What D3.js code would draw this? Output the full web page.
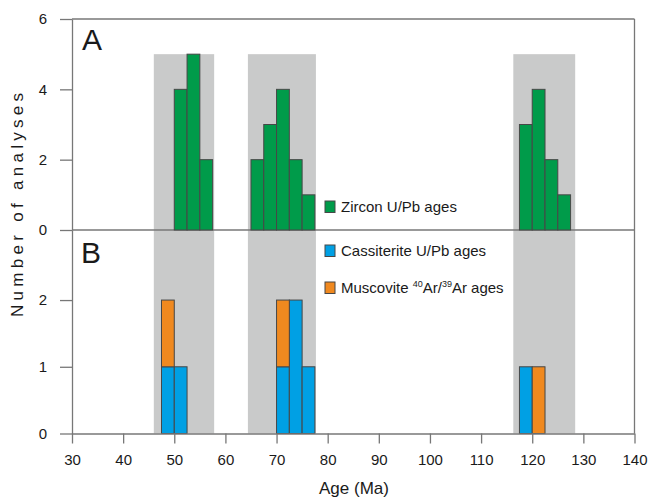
<!DOCTYPE html>
<html lang="en">
	<head>
		<meta charset="utf-8">
		<title>Age histogram</title>
		<script type="text/javascript" src="https://d3js.org/d3.v7.min.js"></script>
		<style type="text/css">
			body { margin: 0; background: white; }
			text { font-family: "Liberation Sans", Arial, sans-serif; fill: #1a1a1a; }
			.axis path, .axis line { stroke: #777; stroke-width: 1.3px; }
			.axis text { font-size: 15px; fill: #1a1a1a; font-family: "Liberation Sans", Arial, sans-serif; }
		</style>
	</head>
	<body>
		<script type="text/javascript">

			//Data (bin start in Ma, bin width 2.5 Ma)
			var binWidth = 2.5;
			var zirconBins = [50, 52.5, 55, 65, 67.5, 70, 72.5, 75, 117.5, 120, 122.5, 125];
			var zirconCounts = [4, 5, 2, 2, 3, 4, 2, 1, 3, 4, 2, 1];
			var cassBins = [47.5, 50, 70, 72.5, 75, 117.5];
			var cassCounts = [1, 1, 1, 2, 1, 1];
			var muscBins = [47.5, 70, 120];
			var muscCounts = [1, 1, 1];
			//grey age ranges
			var bandStart = [46, 64.4, 116.3];
			var bandEnd = [57.8, 77.7, 128.4];
			var xTicks = [30, 40, 50, 60, 70, 80, 90, 100, 110, 120, 130, 140];
			var topTicks = [0, 2, 4, 6];
			var bottomTicks = [0, 1, 2];

			var w = 649;
			var h = 498;
			var plotLeft = 72, plotRight = 634.5, plotTop = 19, plotMid = 230, plotBottom = 433.5;

			var green = "#009b4a", blue = "#00a0e4", orange = "#f0891f", grey = "#c9caca", edge = "#474747";

			var svg = d3.select("body")
						.append("svg")
						.attr("width", w)
						.attr("height", h);

			var x = d3.scaleLinear().domain([30, 140]).range([plotLeft, plotRight]);
			var yTop = d3.scaleLinear().domain([0, 6]).range([plotMid, plotTop]);
			var yBot = d3.scaleLinear().domain([0, 3.05]).range([plotBottom, plotMid]);

			//grey bands, from 5 on top scale down to the x axis
			svg.selectAll("rect.band")
				.data(bandStart)
				.enter()
				.append("rect")
				.attr("class", "band")
				.attr("x", function(d) { return x(d); })
				.attr("width", function(d, i) { return x(bandEnd[i]) - x(d); })
				.attr("y", yTop(5))
				.attr("height", plotBottom - yTop(5))
				.attr("fill", grey);

			//frame
			svg.append("line")
				.attr("x1", plotLeft).attr("x2", plotRight)
				.attr("y1", plotTop).attr("y2", plotTop)
				.attr("stroke", "#777").attr("stroke-width", 1.3);
			svg.append("line")
				.attr("x1", plotRight).attr("x2", plotRight)
				.attr("y1", plotTop).attr("y2", plotBottom)
				.attr("stroke", "#777").attr("stroke-width", 1.3);
			svg.append("line")
				.attr("x1", plotLeft).attr("x2", plotRight)
				.attr("y1", plotMid).attr("y2", plotMid)
				.attr("stroke", "#777").attr("stroke-width", 1.3);

			//zircon bars
			svg.selectAll("rect.zircon")
				.data(zirconBins)
				.enter()
				.append("rect")
				.attr("class", "zircon")
				.attr("x", function(d) { return x(d); })
				.attr("width", function(d) { return x(d + binWidth) - x(d); })
				.attr("y", function(d, i) { return yTop(zirconCounts[i]); })
				.attr("height", function(d, i) { return plotMid - yTop(zirconCounts[i]); })
				.attr("fill", green)
				.attr("stroke", edge)
				.attr("stroke-width", 1);

			//cassiterite bars
			svg.selectAll("rect.cass")
				.data(cassBins)
				.enter()
				.append("rect")
				.attr("class", "cass")
				.attr("x", function(d) { return x(d); })
				.attr("width", function(d) { return x(d + binWidth) - x(d); })
				.attr("y", function(d, i) { return yBot(cassCounts[i]); })
				.attr("height", function(d, i) { return plotBottom - yBot(cassCounts[i]); })
				.attr("fill", blue)
				.attr("stroke", edge)
				.attr("stroke-width", 1);

			//muscovite bars, stacked on cassiterite
			function baseOf(b) {
				var k = cassBins.indexOf(b);
				return k < 0 ? 0 : cassCounts[k];
			}
			svg.selectAll("rect.musc")
				.data(muscBins)
				.enter()
				.append("rect")
				.attr("class", "musc")
				.attr("x", function(d) { return x(d); })
				.attr("width", function(d) { return x(d + binWidth) - x(d); })
				.attr("y", function(d, i) { return yBot(baseOf(d) + muscCounts[i]); })
				.attr("height", function(d, i) { return yBot(baseOf(d)) - yBot(baseOf(d) + muscCounts[i]); })
				.attr("fill", orange)
				.attr("stroke", edge)
				.attr("stroke-width", 1);

			//axes
			svg.append("g")
				.attr("class", "axis")
				.attr("transform", "translate(" + plotLeft + ",0)")
				.call(d3.axisLeft(yTop).tickValues(topTicks).tickFormat(d3.format("d"))
					.tickSize(12).tickSizeOuter(0).tickPadding(13));
			svg.append("g")
				.attr("class", "axis")
				.attr("transform", "translate(" + plotLeft + ",0)")
				.call(d3.axisLeft(yBot).tickValues(bottomTicks).tickFormat(d3.format("d"))
					.tickSize(12).tickSizeOuter(0).tickPadding(13));
			svg.append("g")
				.attr("class", "axis")
				.attr("transform", "translate(0," + plotBottom + ")")
				.call(d3.axisBottom(x).tickValues(xTicks).tickFormat(d3.format("d"))
					.tickSize(10).tickSizeOuter(0).tickPadding(11));

			//panel letters
			svg.append("text").attr("x", 82).attr("y", 49.5)
				.style("font-size", "30px").text("A");
			svg.append("text").attr("x", 81).attr("y", 262.7)
				.style("font-size", "30px").text("B");

			//legend
			var legend = [
				{ color: green, y: 201 },
				{ color: blue, y: 245 },
				{ color: orange, y: 282 }
			];
			svg.selectAll("rect.key")
				.data(legend)
				.enter()
				.append("rect")
				.attr("class", "key")
				.attr("x", 325)
				.attr("y", function(d) { return d.y; })
				.attr("width", 10)
				.attr("height", 11.5)
				.attr("fill", function(d) { return d.color; })
				.attr("stroke", edge)
				.attr("stroke-width", 1);

			svg.append("text").attr("x", 341).attr("y", 211.5)
				.style("font-size", "15px").text("Zircon U/Pb ages");
			svg.append("text").attr("x", 341).attr("y", 256)
				.style("font-size", "15px").text("Cassiterite U/Pb ages");
			var mt = svg.append("text").attr("x", 341).attr("y", 293)
				.style("font-size", "15px");
			mt.append("tspan").text("Muscovite ");
			mt.append("tspan").attr("dy", -6).style("font-size", "9px").text("40");
			mt.append("tspan").attr("dy", 6).text("Ar/");
			mt.append("tspan").attr("dy", -6).style("font-size", "9px").text("39");
			mt.append("tspan").attr("dy", 6).text("Ar ages");

			//axis titles
			svg.append("text")
				.attr("transform", "translate(23,205) rotate(-90)")
				.attr("text-anchor", "middle")
				.attr("textLength", 224)
				.attr("lengthAdjust", "spacing")
				.style("font-size", "17px")
				.text("Number of analyses");
			svg.append("text")
				.attr("x", 354)
				.attr("y", 494)
				.attr("text-anchor", "middle")
				.style("font-size", "17px")
				.text("Age (Ma)");

		</script>
	</body>
</html>
